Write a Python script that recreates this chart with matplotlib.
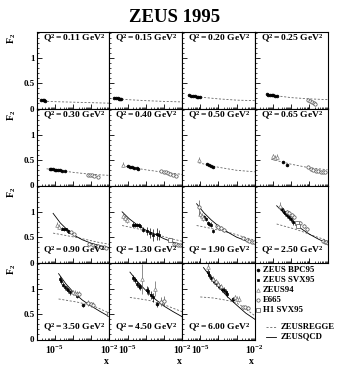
import matplotlib
matplotlib.use('Agg')
import matplotlib.pyplot as plt
from matplotlib.ticker import LogLocator, FixedLocator, FixedFormatter, MultipleLocator, NullFormatter

plt.rcParams['font.family'] = ['Liberation Serif', 'DejaVu Serif']
plt.rcParams['mathtext.fontset'] = 'custom'
plt.rcParams['mathtext.rm'] = 'Liberation Serif:bold'
plt.rcParams['mathtext.bf'] = 'Liberation Serif:bold'
plt.rcParams['mathtext.it'] = 'Liberation Serif:bold'

# ---------------- data ----------------
q2_bins = ['0.11', '0.15', '0.20', '0.25', '0.30', '0.40', '0.50', '0.65',
           '0.90', '1.30', '1.90', '2.50', '3.50', '4.50', '6.00']

# each entry: (x values, F2 values, F2 errors)
BPC95 = {
    '0.11': ([1.8e-6, 2.1e-6, 2.4e-6, 2.7e-6], [0.17, 0.165, 0.16, 0.155], [0.01] * 4),
    '0.15': ([1.9e-6, 2.3e-6, 2.8e-6, 3.3e-6, 4.0e-6, 4.6e-6],
             [0.21, 0.205, 0.20, 0.195, 0.19, 0.185], [0.01] * 6),
    '0.20': ([2.5e-6, 3.2e-6, 4.0e-6, 5.0e-6, 6.3e-6, 7.9e-6, 1.0e-5],
             [0.26, 0.255, 0.25, 0.24, 0.235, 0.23, 0.225], [0.01] * 7),
    '0.25': ([4.6e-6, 5.6e-6, 7.0e-6, 8.5e-6, 1.05e-5, 1.3e-5, 1.6e-5],
             [0.28, 0.275, 0.27, 0.265, 0.26, 0.255, 0.25], [0.01] * 7),
    '0.30': ([5.4e-6, 6.5e-6, 8.0e-6, 1.0e-5, 1.2e-5, 1.5e-5, 1.9e-5, 2.6e-5, 3.6e-5],
             [0.33, 0.325, 0.32, 0.315, 0.31, 0.305, 0.30, 0.29, 0.28], [0.01] * 9),
    '0.40': ([1.1e-5, 1.4e-5, 1.8e-5, 2.3e-5, 3.1e-5, 3.9e-5],
             [0.39, 0.375, 0.36, 0.35, 0.34, 0.33], [0.015] * 6),
    '0.50': ([2.3e-5, 3.0e-5, 4.0e-5, 5.2e-5], [0.42, 0.40, 0.38, 0.36], [0.015] * 4),
    '0.65': ([3.7e-5, 6.2e-5], [0.47, 0.41], [0.02, 0.02]),
    '3.50': ([3.6e-4], [0.68], [0.03]),
    '4.50': ([4.3e-4], [0.70], [0.05]),
    '6.00': ([6.6e-4], [0.79], [0.04]),
}
SVX95 = {
    '0.90': ([2.5e-5, 3.2e-5, 4.0e-5, 5.0e-5, 6.3e-5], [0.67, 0.66, 0.66, 0.63, 0.61], [0.03] * 5),
    '1.30': ([2.1e-5, 2.6e-5, 3.2e-5, 4.0e-5, 4.8e-5, 7.0e-5, 1.2e-4, 1.8e-4, 2.5e-4, 4.0e-4, 5.5e-4],
             [0.75, 0.74, 0.74, 0.74, 0.72, 0.65, 0.62, 0.58, 0.55, 0.56, 0.54],
             [0.04, 0.04, 0.04, 0.04, 0.04, 0.05, 0.08, 0.10, 0.12, 0.12, 0.10]),
    '1.90': ([1.6e-5, 2.0e-5, 2.5e-5, 3.2e-5, 4.0e-5, 5.0e-5],
             [0.90, 0.86, 0.78, 0.76, 0.75, 0.63], [0.04] * 6),
    '2.50': ([3.0e-5, 3.8e-5, 4.8e-5, 6.0e-5, 7.6e-5, 9.5e-5, 1.3e-4],
             [1.05, 1.00, 0.97, 0.93, 0.89, 0.85, 0.80], [0.05] * 7),
    '3.50': ([1.9e-5, 2.3e-5, 2.8e-5, 3.5e-5, 4.5e-5, 5.6e-5, 7.0e-5, 1.6e-4],
             [1.20, 1.15, 1.08, 1.03, 1.00, 0.97, 0.93, 0.86], [0.05] * 8),
    '4.50': ([2.0e-5, 2.5e-5, 3.2e-5, 4.0e-5, 5.0e-5, 1.1e-4, 1.4e-4, 2.0e-4, 2.5e-4],
             [1.22, 1.17, 1.10, 1.05, 1.03, 0.97, 0.95, 0.88, 0.83], [0.06] * 5 + [0.08] * 4),
    '6.00': ([2.6e-5, 3.2e-5, 4.0e-5, 5.0e-5, 6.0e-5, 7.5e-5, 9.0e-5, 1.1e-4, 1.5e-4, 2.0e-4, 2.5e-4, 3.0e-4],
             [1.33, 1.28, 1.22, 1.18, 1.15, 1.12, 1.08, 1.05, 1.00, 0.97, 0.93, 0.90], [0.06] * 12),
}
ZEUS94 = {
    '0.40': ([5.9e-6], [0.41], [0.05]),
    '0.50': ([8.5e-6], [0.51], [0.05]),
    '0.65': ([1.05e-5, 1.3e-5, 1.6e-5], [0.58, 0.55, 0.57], [0.05] * 3),
    '0.90': ([1.26e-5, 1.6e-5], [0.75, 0.71], [0.05, 0.05]),
    '1.30': ([5.6e-6, 7.5e-6, 9.3e-6], [0.92, 0.87, 0.84], [0.07, 0.06, 0.06]),
    '1.90': ([1.0e-5, 1.2e-5, 1.4e-5], [0.96, 0.92, 0.88], [0.06] * 3),
    '2.50': ([2.5e-5], [1.11], [0.08]),
    '3.50': ([1.0e-4, 1.3e-4], [0.93, 0.92], [0.05, 0.05]),
    '4.50': ([5.9e-5, 3.2e-4], [1.20, 1.00], [0.30, 0.15]),
    '6.00': ([2.6e-5, 5.0e-5, 7.0e-5, 1.0e-4, 1.4e-4, 8.3e-4, 1.1e-3, 1.3e-3],
             [1.43, 1.20, 1.15, 1.10, 1.05, 0.83, 0.80, 0.80], [0.10] + [0.05] * 7),
}
E665 = {
    '0.25': ([9.0e-4, 1.1e-3, 1.4e-3, 1.8e-3, 2.1e-3], [0.16, 0.14, 0.12, 0.11, 0.09], [0.015] * 5),
    '0.30': ([7.0e-4, 9.0e-4, 1.1e-3, 1.5e-3, 2.4e-3], [0.21, 0.20, 0.20, 0.19, 0.17], [0.015] * 5),
    '0.40': ([7.2e-4, 1.0e-3, 1.3e-3, 1.7e-3, 2.3e-3, 3.2e-3, 4.8e-3],
             [0.29, 0.27, 0.26, 0.25, 0.23, 0.21, 0.19], [0.015] * 7),
    '0.65': ([8.5e-4, 1.2e-3, 1.6e-3, 2.2e-3, 3.0e-3, 4.2e-3, 5.8e-3, 7.2e-3],
             [0.36, 0.33, 0.31, 0.29, 0.28, 0.27, 0.26, 0.26], [0.015] * 8),
    '0.90': ([8.0e-5, 1.1e-4, 8.0e-4, 1.2e-3, 1.7e-3, 2.4e-3, 3.4e-3, 4.8e-3, 6.8e-3],
             [0.60, 0.56, 0.36, 0.34, 0.33, 0.32, 0.31, 0.30, 0.29], [0.03] * 2 + [0.015] * 7),
    '1.30': ([3.5e-3, 4.5e-3, 5.8e-3, 7.5e-3, 9.5e-3], [0.37, 0.36, 0.35, 0.35, 0.34], [0.02] * 5),
    '1.90': ([8.5e-6, 7.9e-5, 1.0e-4, 1.4e-4, 1.9e-4, 2.3e-3, 3.5e-3, 5.0e-3, 7.0e-3, 9.0e-3],
             [1.09, 0.72, 0.70, 0.68, 0.64, 0.49, 0.44, 0.42, 0.40, 0.41], [0.15] + [0.04] * 4 + [0.02] * 5),
    '2.50': ([6.0e-5, 8.0e-5, 1.1e-4, 1.5e-4, 3.0e-4, 5.0e-4, 7.0e-4, 5.5e-3, 7.0e-3, 8.5e-3, 1.0e-2],
             [1.00, 0.97, 0.93, 0.90, 0.78, 0.72, 0.67, 0.43, 0.41, 0.40, 0.39], [0.04] * 7 + [0.02] * 4),
    '3.50': ([1.7e-4, 2.2e-4, 7.0e-4, 1.0e-3, 1.3e-3], [0.90, 0.90, 0.72, 0.70, 0.69], [0.05] * 5),
    '4.50': ([6.6e-4, 1.0e-3], [0.75, 0.76], [0.08, 0.10]),
    '6.00': ([2.2e-3, 2.8e-3, 4.3e-3], [0.64, 0.64, 0.63], [0.03] * 3),
}
H1SVX95 = {
    '1.30': ([2.3e-3], [0.45], [0.02]),
    '2.50': ([2.0e-4, 2.5e-4], [0.77, 0.73], [0.04, 0.04]),
    '3.50': ([9.0e-3], [0.50], [0.03]),
}
# model curves: (x knots, F2)
ZEUSREGGE = {
    '0.11': ([2.3e-6, 1e-5, 1e-4, 1e-3, 1e-2], [0.145, 0.135, 0.125, 0.115, 0.105]),
    '0.15': ([4.8e-6, 1e-5, 1e-4, 1e-3, 1e-2], [0.185, 0.175, 0.155, 0.14, 0.13]),
    '0.20': ([1e-5, 1e-4, 1e-3, 1e-2], [0.225, 0.19, 0.165, 0.155]),
    '0.25': ([1.6e-5, 1e-4, 1e-3, 1e-2], [0.25, 0.215, 0.19, 0.175]),
    '0.30': ([3.5e-6, 1e-5, 1e-4, 1e-3, 1e-2], [0.33, 0.31, 0.26, 0.22, 0.20]),
    '0.40': ([5e-6, 1e-5, 1e-4, 1e-3, 1e-2], [0.39, 0.37, 0.31, 0.26, 0.22]),
    '0.50': ([8e-6, 1e-5, 1e-4, 1e-3, 1e-2], [0.45, 0.44, 0.36, 0.30, 0.27]),
    '0.65': ([8e-6, 1e-5, 1e-4, 1e-3, 1e-2], [0.52, 0.51, 0.42, 0.35, 0.31]),
    '0.90': ([8e-6, 3.2e-5, 1.26e-4, 3.2e-4, 1e-3, 3.2e-3, 1e-2], [0.58, 0.54, 0.50, 0.47, 0.43, 0.39, 0.36]),
    '1.30': ([5e-6, 3.2e-5, 1.26e-4, 4e-4, 1e-3, 3.2e-3, 1e-2], [0.73, 0.67, 0.61, 0.55, 0.51, 0.46, 0.42]),
    '1.90': ([6.3e-6, 3.2e-5, 1.26e-4, 5e-4, 1e-3, 3.2e-3, 1e-2], [0.73, 0.68, 0.63, 0.58, 0.55, 0.49, 0.44]),
    '2.50': ([1.6e-5, 5e-5, 1.6e-4, 5e-4, 1.6e-3, 5e-3, 1e-2], [0.76, 0.71, 0.66, 0.60, 0.53, 0.47, 0.43]),
    '3.50': ([1.6e-5, 5e-5, 1.6e-4, 5e-4, 1.6e-3, 5e-3, 1e-2], [0.80, 0.77, 0.74, 0.70, 0.65, 0.57, 0.52]),
    '4.50': ([1.35e-5, 5e-5, 1.6e-4, 5e-4, 1.6e-3, 5e-3, 1e-2], [0.83, 0.80, 0.77, 0.72, 0.66, 0.59, 0.55]),
    '6.00': ([1e-5, 5e-5, 1.6e-4, 6.3e-4, 1.6e-3, 5e-3, 1e-2], [0.84, 0.82, 0.79, 0.75, 0.68, 0.55, 0.47]),
}
ZEUSQCD = {
    '0.90': ([8e-6, 2e-5, 5e-5, 1.26e-4, 3.2e-4, 1e-3, 3.2e-3, 1e-2], [0.97, 0.78, 0.64, 0.53, 0.45, 0.38, 0.33, 0.29]),
    '1.30': ([5e-6, 1.26e-5, 3.2e-5, 1e-4, 3.2e-4, 1e-3, 3.2e-3, 1e-2], [1.00, 0.86, 0.75, 0.64, 0.56, 0.47, 0.40, 0.34]),
    '1.90': ([6.3e-6, 1.6e-5, 4e-5, 1e-4, 3.2e-4, 1e-3, 3.2e-3, 1e-2], [1.16, 0.98, 0.84, 0.72, 0.60, 0.50, 0.43, 0.37]),
    '2.50': ([1.6e-5, 4e-5, 1e-4, 3.2e-4, 1e-3, 3.2e-3, 1e-2], [1.12, 0.98, 0.84, 0.68, 0.56, 0.46, 0.38]),
    '3.50': ([1.6e-5, 4e-5, 1e-4, 3.2e-4, 1e-3, 3.2e-3, 1e-2], [1.30, 1.10, 0.94, 0.78, 0.66, 0.55, 0.45]),
    '4.50': ([1.35e-5, 4e-5, 1e-4, 3.2e-4, 1e-3, 3.2e-3, 1e-2], [1.33, 1.12, 0.97, 0.80, 0.66, 0.55, 0.45]),
    '6.00': ([1.5e-5, 4e-5, 1e-4, 3.2e-4, 1e-3, 3.2e-3, 1e-2], [1.42, 1.22, 1.04, 0.84, 0.68, 0.52, 0.40]),
}

legend_labels = ['ZEUS BPC95', 'ZEUS SVX95', 'ZEUS94', 'E665', 'H1 SVX95']
model_labels = ['ZEUSREGGE', 'ZEUSQCD']
x_tick_labels = [r'$\mathbf{10^{-5}}$', r'$\mathbf{10^{-2}}$']
y_tick_labels = ['0', '0.5', '1']

# ---------------- styles ----------------
styles = {
    'ZEUS BPC95': dict(marker='o', ms=2.0, mfc='black', mec='black', color='black'),
    'ZEUS SVX95': dict(marker='s', ms=1.9, mfc='black', mec='black', color='black'),
    'ZEUS94': dict(marker='^', ms=2.6, mfc='white', mec='#808080', color='#606060', mew=0.5),
    'E665': dict(marker='o', ms=2.4, mfc='white', mec='#505050', color='#505050', mew=0.5),
    'H1 SVX95': dict(marker='s', ms=2.4, mfc='white', mec='#505050', color='#505050', mew=0.5),
}
datasets = [('ZEUS BPC95', BPC95), ('ZEUS SVX95', SVX95), ('ZEUS94', ZEUS94),
            ('E665', E665), ('H1 SVX95', H1SVX95)]
regge_style = dict(color='#666666', lw=0.6, ls=(0, (2.5, 2)))
qcd_style = dict(color='black', lw=0.6, ls='-')

W, H = 346, 373
fig = plt.figure(figsize=(W / 100, H / 100), dpi=100)

X0, PW = 36.7, 72.7
Y0, PH = 31.5, 77.0

fig.text(175 / W, 1 - 17 / H, 'ZEUS 1995', ha='center', va='center',
         fontsize=13.5, fontweight='bold')

for i, q in enumerate(q2_bins):
    r, c = divmod(i, 4)
    left = X0 + c * PW
    top = Y0 + r * PH
    ax = fig.add_axes([left / W, 1 - (top + PH) / H, PW / W, PH / H])
    ax.set_xscale('log')
    ax.set_xlim(1e-6, 1e-2)
    ax.set_ylim(0, 1.52)
    for sp in ax.spines.values():
        sp.set_linewidth(0.8)
    if q in ZEUSREGGE:
        ax.plot(*ZEUSREGGE[q], **regge_style)
    if q in ZEUSQCD:
        ax.plot(*ZEUSQCD[q], **qcd_style)
    for name, dct in datasets:
        if q in dct:
            xs, ys, es = dct[q]
            st = styles[name]
            ax.errorbar(xs, ys, yerr=es, fmt='none', ecolor=st['color'], elinewidth=0.5, capsize=0)
            ax.plot(xs, ys, ls='none', marker=st['marker'], ms=st['ms'], mfc=st['mfc'],
                    mec=st['mec'], mew=st.get('mew', 0.5))
    # ticks
    ax.xaxis.set_major_locator(FixedLocator([1e-6, 1e-5, 1e-4, 1e-3, 1e-2]))
    ax.xaxis.set_minor_locator(LogLocator(base=10, subs=range(2, 10), numticks=20))
    ax.xaxis.set_minor_formatter(NullFormatter())
    ax.yaxis.set_major_locator(FixedLocator([0, 0.5, 1.0]))
    ax.yaxis.set_minor_locator(MultipleLocator(0.1))
    ax.tick_params(which='major', direction='in', length=3.5, width=0.6, pad=1.5,
                   labelsize=6.5)
    ax.tick_params(which='minor', direction='in', length=1.6, width=0.5)
    if r == 3:
        ax.xaxis.set_major_formatter(FixedFormatter(['', x_tick_labels[0], '', '', x_tick_labels[1]]))
        ax.tick_params(axis='x', labelsize=7, pad=3)
    else:
        ax.xaxis.set_major_formatter(NullFormatter())
    if c == 0:
        ax.yaxis.set_major_formatter(FixedFormatter(y_tick_labels))
        for lab in ax.get_yticklabels():
            lab.set_fontweight('bold')
    else:
        ax.yaxis.set_major_formatter(NullFormatter())
    label = r'$\mathbf{Q^2 = %s\ GeV^2}$' % q
    if r < 2:
        ax.text(0.08, 0.90, label, transform=ax.transAxes, fontsize=6.8, ha='left', va='center')
    else:
        ax.text(0.08, 0.15, label, transform=ax.transAxes, fontsize=6.8, ha='left', va='center')
    if c == 0:
        fig.text(12 / W, 1 - (top + 7) / H, r'$\mathbf{F_2}$', rotation=90, fontsize=7,
                 ha='center', va='center')
    if r == 3:
        fig.text((left + PW - 3) / W, 1 - 362 / H, 'x', fontsize=7, fontweight='bold',
                 ha='center', va='center')

# legend in the free cell
lax = fig.add_axes([0, 0, 1, 1])
lax.set_xlim(0, W)
lax.set_ylim(H, 0)
lax.axis('off')
leg_y = [270, 279.5, 289.5, 299.5, 309.5]
for lab, yy in zip(legend_labels, leg_y):
    st = styles[lab]
    lax.plot([258], [yy], ls='none', marker=st['marker'], ms=st['ms'], mfc=st['mfc'],
             mec=st['mec'], mew=st.get('mew', 0.5))
    lax.text(263, yy, lab, fontsize=6.3, fontweight='bold', va='center', ha='left')
for lab, yy, st in zip(model_labels, [327, 336.5], [regge_style, qcd_style]):
    lax.plot([266, 276], [yy, yy], **st)
    lax.text(281, yy, lab, fontsize=6.3, fontweight='bold', va='center', ha='left')

fig.savefig('out.png', dpi=100)
